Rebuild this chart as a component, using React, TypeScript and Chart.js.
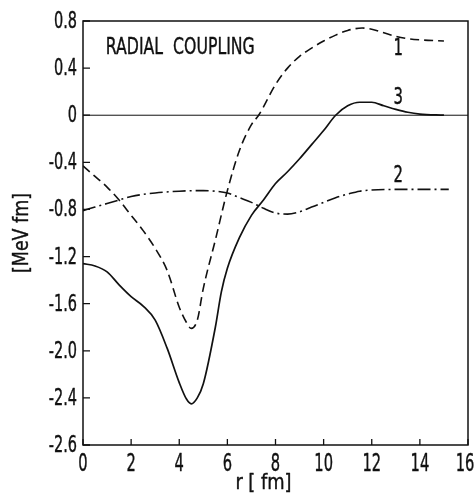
import React, { useEffect, useRef } from "react";
import { Chart, registerables } from "chart.js";
Chart.register(...registerables);

// Curve 1 (dashed)
const r1 = [0, 0.5, 1.0, 1.5, 2.0, 2.5, 3.0, 3.5, 4.0, 4.3, 4.5, 4.75, 5.0, 5.5, 6.0, 6.5, 7.0, 7.3, 8.0, 8.5, 9.0, 9.5, 10.0, 10.5, 11.0, 11.6, 12.0, 12.5, 13.0, 13.5, 14.0, 15.0];
const v1 = [-0.43, -0.52, -0.61, -0.72, -0.85, -0.98, -1.13, -1.32, -1.63, -1.76, -1.81, -1.74, -1.47, -1.06, -0.64, -0.3, -0.08, 0.0, 0.26, 0.4, 0.5, 0.57, 0.63, 0.68, 0.72, 0.74, 0.73, 0.7, 0.67, 0.65, 0.64, 0.63];

// Curve 2 (dash-dot)
const r2 = [0, 0.5, 1.0, 1.5, 2.0, 3.0, 4.0, 5.0, 5.5, 6.0, 6.5, 7.0, 7.5, 8.0, 8.5, 9.0, 9.5, 10.0, 10.5, 11.0, 11.5, 12.0, 13.0, 14.0, 15.2];
const v2 = [-0.81, -0.78, -0.75, -0.72, -0.69, -0.66, -0.645, -0.64, -0.645, -0.66, -0.7, -0.74, -0.79, -0.83, -0.84, -0.82, -0.78, -0.74, -0.7, -0.67, -0.645, -0.635, -0.63, -0.63, -0.63];

// Curve 3 (solid)
const r3 = [0, 0.5, 1.0, 1.5, 2.0, 2.5, 3.0, 3.5, 4.0, 4.3, 4.5, 4.75, 5.0, 5.5, 5.75, 6.0, 6.5, 7.0, 7.5, 8.0, 8.5, 9.0, 9.5, 10.0, 10.5, 11.0, 11.5, 12.0, 12.5, 13.0, 13.5, 14.0, 15.0];
const v3 = [-1.26, -1.28, -1.33, -1.44, -1.54, -1.62, -1.74, -1.98, -2.27, -2.41, -2.45, -2.4, -2.28, -1.8, -1.5, -1.3, -1.04, -0.85, -0.72, -0.58, -0.48, -0.37, -0.25, -0.13, 0.0, 0.08, 0.11, 0.11, 0.08, 0.05, 0.025, 0.01, 0.0];

// Axis ticks
const xTickValues = [0, 2, 4, 6, 8, 10, 12, 14, 16];
const yTickValues = [0.8, 0.4, 0, -0.4, -0.8, -1.2, -1.6, -2.0, -2.4, -2.8];
const yTickLabels = ["0.8", "0.4", "0", "-0.4", "-0.8", "-1.2", "-1.6", "-2.0", "-2.4", "-2.6"];

// Curve labels
const curveLabels = ["1", "2", "3"];
const labelR = [13.1, 13.1, 13.1];
const labelV = [0.56, -0.52, 0.15];

const panelTitle = "RADIAL  COUPLING";
const panelTitleR = 0.95;
const panelTitleV = 0.57;
const xTitle = "r [ fm]";
const yTitle = "[MeV fm]";

const FONT = "'DejaVu Sans', sans-serif";

const toPts = (r: number[], v: number[]) => r.map((x, i) => ({ x, y: v[i] }));

function drawText(
  ctx: CanvasRenderingContext2D,
  text: string,
  x: number,
  y: number,
  size: number,
  sx: number,
  align: CanvasTextAlign,
  rotate = 0
) {
  ctx.save();
  ctx.translate(x, y);
  if (rotate) ctx.rotate(rotate);
  ctx.scale(sx, 1);
  ctx.font = `${size}px ${FONT}`;
  (ctx as any).fontStretch = "condensed";
  ctx.textAlign = align;
  ctx.textBaseline = "middle";
  ctx.lineWidth = 0.4;
  ctx.lineJoin = "round";
  ctx.fillText(text, 0, 0);
  ctx.strokeText(text, 0, 0);
  ctx.restore();
}

const decorPlugin = {
  id: "decor",
  afterDraw(chart: any) {
    const { ctx, chartArea: a, scales, width } = chart;
    const xs = scales.x;
    const ys = scales.y;
    ctx.save();
    ctx.strokeStyle = "#111";
    ctx.fillStyle = "#111";
    // frame
    ctx.lineWidth = 1.5;
    ctx.strokeRect(a.left, a.top, a.right - a.left, a.bottom - a.top);
    // zero line
    ctx.lineWidth = 1;
    const y0 = ys.getPixelForValue(0);
    ctx.beginPath();
    ctx.moveTo(a.left, y0);
    ctx.lineTo(a.right, y0);
    ctx.stroke();
    // inward ticks
    ctx.lineWidth = 1.3;
    ctx.beginPath();
    xTickValues.forEach((v) => {
      const px = xs.getPixelForValue(v);
      ctx.moveTo(px, a.bottom);
      ctx.lineTo(px, a.bottom - 6);
    });
    yTickValues.forEach((v) => {
      const py = ys.getPixelForValue(v);
      ctx.moveTo(a.left, py);
      ctx.lineTo(a.left + 7, py);
    });
    ctx.stroke();
    // tick labels
    yTickValues.forEach((v, i) => {
      drawText(ctx, yTickLabels[i], a.left - 6, ys.getPixelForValue(v) + 1, 23, 0.7, "right");
    });
    xTickValues.forEach((v) => {
      const px = Math.min(xs.getPixelForValue(v), width - 9);
      drawText(ctx, String(v), px, a.bottom + 20, 24, 0.68, "center");
    });
    // curve labels
    curveLabels.forEach((t, i) => {
      drawText(ctx, t, xs.getPixelForValue(labelR[i]), ys.getPixelForValue(labelV[i]), 23, 0.72, "center");
    });
    // panel title
    drawText(ctx, panelTitle, xs.getPixelForValue(panelTitleR), ys.getPixelForValue(panelTitleV), 23, 0.76, "left");
    // x title
    drawText(ctx, xTitle, xs.getPixelForValue(7.5), a.bottom + 38, 22, 0.9, "center");
    // y title
    drawText(ctx, yTitle, 22, (a.top + a.bottom) / 2, 22, 0.88, "center", -Math.PI / 2);
    ctx.restore();
  },
};

export default function App() {
  const ref = useRef<HTMLCanvasElement>(null);
  useEffect(() => {
    document.body.style.margin = "0";
    const canvas = ref.current!;
    const chart = new Chart(canvas, {
      type: "line",
      data: {
        datasets: [
          {
            label: "1",
            data: toPts(r1, v1),
            borderColor: "#111",
            borderWidth: 1.6,
            borderDash: [9, 5],
            pointRadius: 0,
            cubicInterpolationMode: "monotone",
            fill: false,
          },
          {
            label: "2",
            data: toPts(r2, v2),
            borderColor: "#111",
            borderWidth: 1.6,
            borderDash: [13, 4, 2, 4],
            pointRadius: 0,
            cubicInterpolationMode: "monotone",
            fill: false,
          },
          {
            label: "3",
            data: toPts(r3, v3),
            borderColor: "#111",
            borderWidth: 1.7,
            pointRadius: 0,
            cubicInterpolationMode: "monotone",
            fill: false,
          },
        ],
      },
      options: {
        responsive: false,
        animation: false,
        layout: { padding: { top: 21, right: 6, left: 0, bottom: 0 } },
        plugins: { legend: { display: false }, tooltip: { enabled: false } },
        scales: {
          x: {
            type: "linear",
            min: 0,
            max: 16,
            afterFit: (s: any) => {
              s.height = 55;
            },
            afterBuildTicks: (s: any) => {
              s.ticks = xTickValues.map((value) => ({ value }));
            },
            grid: { display: false, drawTicks: false },
            border: { display: false },
            ticks: { display: false },
          },
          y: {
            type: "linear",
            min: -2.8,
            max: 0.8,
            afterFit: (s: any) => {
              s.width = 83;
            },
            afterBuildTicks: (s: any) => {
              s.ticks = yTickValues.map((value) => ({ value }));
            },
            grid: { display: false, drawTicks: false },
            border: { display: false },
            ticks: { display: false },
          },
        },
      },
      plugins: [decorPlugin],
    });
    return () => chart.destroy();
  }, []);
  return (
    <div style={{ width: 474, height: 500, background: "#fff" }}>
      <canvas ref={ref} width={474} height={500} style={{ width: 474, height: 500 }} />
    </div>
  );
}
